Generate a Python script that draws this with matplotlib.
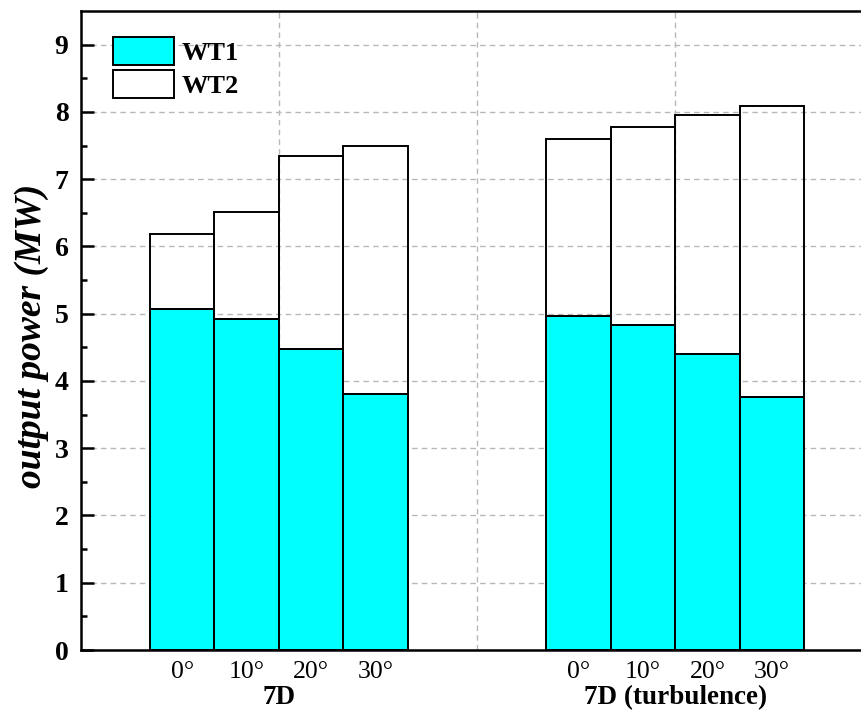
import numpy as np
import matplotlib
matplotlib.use('Agg')
import matplotlib.pyplot as plt
from matplotlib.patches import Patch

plt.rcParams['font.family'] = ['Liberation Serif', 'DejaVu Serif']

groups = ['7D', '7D (turbulence)']
angles = ['0°', '10°', '20°', '30°']
wt1 = [[5.07, 4.92, 4.47, 3.80],
       [4.96, 4.83, 4.40, 3.76]]
total = [[6.18, 6.51, 7.34, 7.49],
         [7.59, 7.77, 7.96, 8.09]]

group_gap = 6.15  # distance between group centres, in bar widths

fig = plt.figure(figsize=(8.62, 7.11), dpi=100)
ax = fig.add_axes([81/862, 1-650/711, (873-81)/862, 639/711])

xs_all, lab_all = [], []
centres = []
for g in range(len(groups)):
	xs = np.arange(len(angles)) + g*group_gap
	centres.append(xs.mean())
	top = np.array(total[g]) - np.array(wt1[g])
	ax.bar(xs, wt1[g], width=1, color='#00ffff', edgecolor='black', lw=1.4, zorder=2)
	ax.bar(xs, top, bottom=wt1[g], width=1, facecolor='none', edgecolor='black', lw=1.4, zorder=3)
	xs_all += list(xs)
	lab_all += angles

mid = np.mean(centres)
for xv in centres + [mid]:
	ax.axvline(xv, color='#b8b8b8', ls=(0, (4, 3)), lw=1, zorder=1)

ax.set_xlim(centres[0] - 3.07, 2*mid - (centres[0] - 3.07))
ax.set_ylim(0, 9.5)
ax.set_yticks(range(10))
ax.set_yticks(np.arange(0.5, 9.5, 1), minor=True)
ax.yaxis.grid(True, color='#b8b8b8', ls=(0, (4, 3)), lw=1, zorder=0)
ax.set_axisbelow(True)

ax.set_xticks(xs_all)
ax.set_xticklabels(lab_all, fontsize=18.5)
ax.tick_params(axis='x', length=0, pad=8)
ax.tick_params(axis='y', which='major', direction='in', length=9, width=1.8, labelsize=20, pad=9)
ax.tick_params(axis='y', which='minor', direction='in', length=4.5, width=1.8)
for t in ax.get_yticklabels():
	t.set_fontweight('bold')

for s in ['left', 'bottom', 'top']:
	ax.spines[s].set_linewidth(1.8)
ax.spines['right'].set_visible(False)

for g, c in enumerate(centres):
	ax.text(c, -0.074, groups[g], transform=ax.get_xaxis_transform(), ha='center', va='center',
		fontsize=19.5, fontweight='bold')

ax.set_ylabel('output power (MW)', fontsize=27, fontweight='bold', fontstyle='italic')
ax.yaxis.set_label_coords(-0.041, 0.491)

handles = [Patch(facecolor='#00ffff', edgecolor='black', lw=1.4, label='WT1'),
           Patch(facecolor='white', edgecolor='black', lw=1.4, label='WT2')]
leg = ax.legend(handles=handles, loc='upper left', bbox_to_anchor=(100/862, 1-24/711),
	bbox_transform=fig.transFigure, frameon=False, borderpad=0, handlelength=2.3,
	handleheight=1.25, labelspacing=0.2, handletextpad=0.3, prop={'size': 19, 'weight': 'bold'})

fig.savefig('out.png', dpi=100)
